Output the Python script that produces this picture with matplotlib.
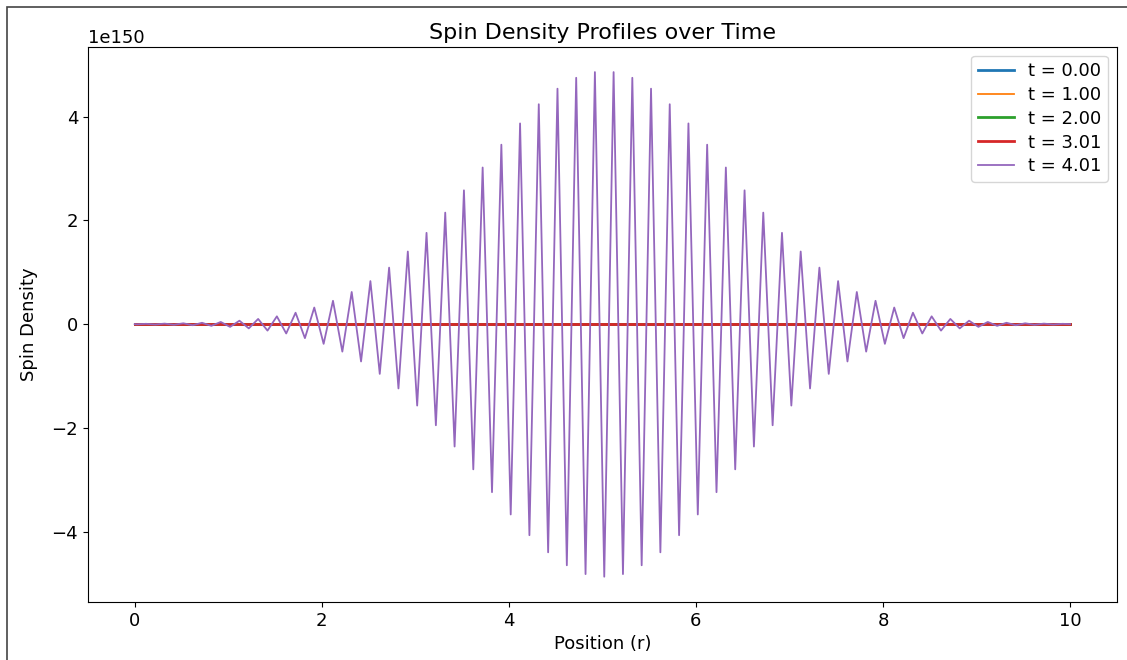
import matplotlib
matplotlib.use("Agg")
import matplotlib.pyplot as plt
import matplotlib.patches as patches
import numpy as np

# time labels of the five profiles
times = [0.00, 1.00, 2.00, 3.01, 4.01]

# the first four profiles are flat at this scale (units of 1e150)
r_flat = [0.0, 10.0]
rho_t0 = [0.0, 0.0]
rho_t1 = [0.0, 0.0]
rho_t2 = [0.0, 0.0]
rho_t3 = [0.0, 0.0]

# t = 4.01 : turning points of the oscillation (units of 1e150)
r_t4 = [0.0] + list(np.round(np.arange(0.02, 9.93, 0.1), 2)) + [10.0]
rho_t4 = [
    0.0,
    -0.004, 0.006, -0.007, 0.010, -0.012, 0.016, -0.021, 0.026, -0.033, 0.042,
    -0.053, 0.066, -0.082, 0.10, -0.125, 0.15, -0.18, 0.22, -0.27, 0.32,
    -0.38, 0.45, -0.53, 0.62, -0.72, 0.83, -0.96, 1.09, -1.24, 1.40,
    -1.57, 1.76, -1.95, 2.15, -2.36, 2.58, -2.80, 3.02, -3.24, 3.46,
    -3.67, 3.87, -4.07, 4.24, -4.40, 4.54, -4.65, 4.75, -4.82, 4.86,
    -4.87,
    4.86, -4.82, 4.75, -4.65, 4.54, -4.40, 4.24, -4.07, 3.87, -3.67,
    3.46, -3.24, 3.02, -2.80, 2.58, -2.36, 2.15, -1.95, 1.76, -1.57,
    1.40, -1.24, 1.09, -0.96, 0.83, -0.72, 0.62, -0.53, 0.45, -0.38,
    0.32, -0.27, 0.22, -0.18, 0.15, -0.125, 0.10, -0.082, 0.066, -0.053,
    0.042, -0.033, 0.026, -0.021, 0.016, -0.012, 0.010, -0.007, 0.006,
    0.0,
]

scale = 1e150

fig = plt.figure(figsize=(11.27, 6.6), dpi=100)
ax = fig.add_axes([0.078, 0.088, 0.913, 0.841])

profiles = [(r_flat, rho_t0), (r_flat, rho_t1), (r_flat, rho_t2), (r_flat, rho_t3), (r_t4, rho_t4)]
widths = [2.0, 1.3, 2.0, 2.0, 1.3]
for (r, rho), t, lw in zip(profiles, times, widths):
    ax.plot(r, np.array(rho) * scale, lw=lw, label=f"t = {t:.2f}")

ax.set_title("Spin Density Profiles over Time", fontsize=16)
ax.set_xlabel("Position (r)", fontsize=13)
ax.set_ylabel("Spin Density", fontsize=13, labelpad=10)
ax.tick_params(labelsize=13)
ax.yaxis.get_offset_text().set_fontsize(13)
ax.legend(loc="upper right", fontsize=13, labelspacing=0.32, borderpad=0.35)

# dark frame of the screenshot
frame = patches.Rectangle((7 / 1127, -0.1), 1.2, 1 - 7 / 660 + 0.1,
                          transform=fig.transFigure, fill=False,
                          edgecolor="#444444", lw=1.2, clip_on=False)
fig.add_artist(frame)

fig.savefig("out.png", dpi=100)
